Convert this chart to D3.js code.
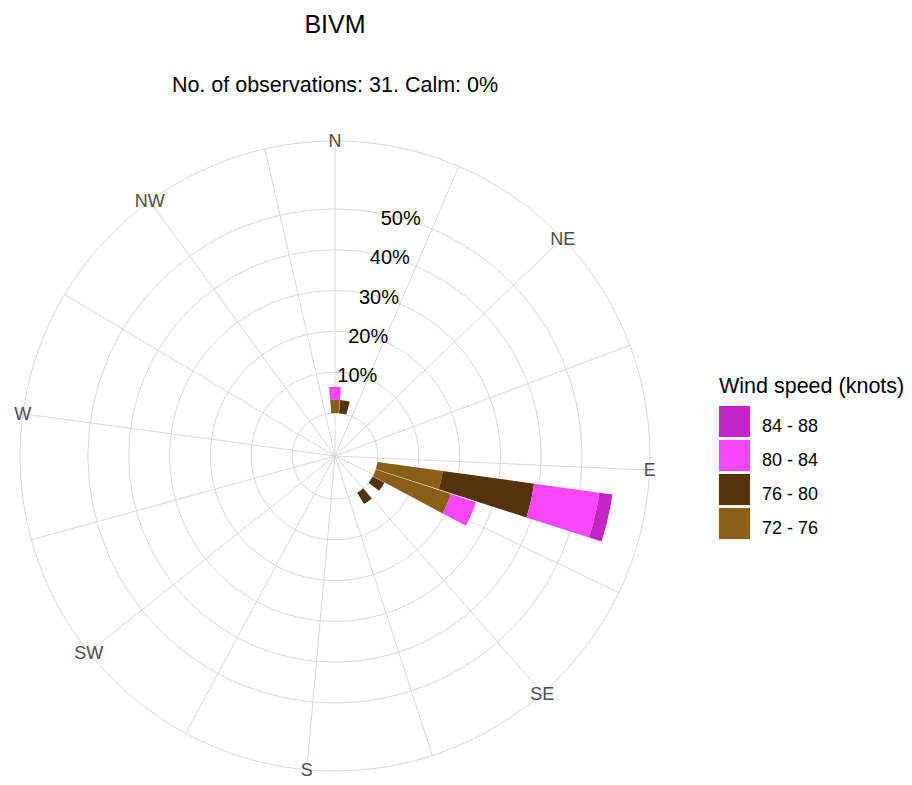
<!DOCTYPE html>
<html>
<head>
<meta charset="utf-8">
<script src="https://cdn.jsdelivr.net/npm/d3@7"></script>
<style>
  body { margin: 0; background: #fff; }
  text { font-family: "Liberation Sans", Arial, sans-serif; }
</style>
</head>
<body>
<svg id="chart" width="912" height="785"></svg>
<script>
// speed bins, legend order (outermost first)
const speedBins = ['84 - 88', '80 - 84', '76 - 80', '72 - 76'];
const binColors = ['#c126c5', '#f846f8', '#55330a', '#8b5e18'];

// direction bins (deg) and counts per speed bin
const directions = [0, 10, 100, 110, 120, 140];
const count7276 = [1, 0, 5, 6, 0, 0];
const count7680 = [0, 1, 7, 0, 1, 1];
const count8084 = [1, 0, 5, 2, 0, 0];
const count8488 = [0, 0, 1, 0, 0, 0];
const nObs = 31;

const compassLabels = ['N', 'NE', 'E', 'SE', 'S', 'SW', 'W', 'NW'];
const compassDirs = [0, 45, 90, 135, 180, 225, 270, 315];
const ringBreaks = [0, 10, 20, 30, 40, 50];
const ringLabels = ['10%', '20%', '30%', '40%', '50%'];

const cx = 335, cy = 456;
const barWidth = 9.6;

const svg = d3.select('#chart');
svg.append('rect').attr('width', 912).attr('height', 785).attr('fill', '#fff');

// percentages per direction, stacked from the slowest bin outward
const rows = directions.map((d, i) => ({
    dir: d,
    '72 - 76': count7276[i] / nObs * 100,
    '76 - 80': count7680[i] / nObs * 100,
    '80 - 84': count8084[i] / nObs * 100,
    '84 - 88': count8488[i] / nObs * 100
}));
const stackKeys = speedBins.slice().reverse();
const series = d3.stack().keys(stackKeys)(rows);
const maxPct = d3.max(series[series.length - 1], d => d[1]);

const theta = d3.scaleLinear().domain([0, 350]).range([0, 2 * Math.PI]);
const r = d3.scaleLinear().domain([0, maxPct]).range([43, 280]);
const outerR = 315;
const color = d3.scaleOrdinal().domain(speedBins).range(binColors);

const g = svg.append('g').attr('transform', `translate(${cx},${cy})`);

// grid: spokes every 22.5 deg, rings at the breaks, outer ring
const spokes = d3.range(0, 350, 22.5);
g.selectAll('.spoke').data(spokes).enter().append('line')
    .attr('x1', 0).attr('y1', 0)
    .attr('x2', d => outerR * Math.sin(theta(d)))
    .attr('y2', d => -outerR * Math.cos(theta(d)))
    .attr('stroke', '#d9d9d9').attr('stroke-width', 1);

g.selectAll('.ring').data(ringBreaks.map(b => r(b)).concat([outerR])).enter().append('circle')
    .attr('r', d => d)
    .attr('fill', 'none')
    .attr('stroke', '#d9d9d9').attr('stroke-width', 1);

// bars
const arc = d3.arc()
    .innerRadius(d => r(d[0]))
    .outerRadius(d => r(d[1]))
    .startAngle(d => theta(d.data.dir - barWidth / 2))
    .endAngle(d => theta(d.data.dir + barWidth / 2));

g.selectAll('.layer').data(series).enter().append('g')
    .attr('fill', s => color(s.key))
    .selectAll('path')
    .data(s => s.filter(d => d[1] > d[0]))
    .enter().append('path')
    .attr('d', arc);

// compass labels
g.selectAll('.compass').data(compassDirs).enter().append('text')
    .attr('x', d => outerR * Math.sin(theta(d)))
    .attr('y', d => -outerR * Math.cos(theta(d)))
    .attr('dy', '0.35em')
    .attr('text-anchor', 'middle')
    .attr('font-size', 18)
    .attr('fill', '#4d4d4d')
    .text((d, i) => compassLabels[i]);

// ring labels
g.selectAll('.rlab').data(ringBreaks.slice(1)).enter().append('text')
    .attr('x', d => r(d) * Math.sin(theta(15)))
    .attr('y', d => -r(d) * Math.cos(theta(15)))
    .attr('dy', '0.35em')
    .attr('text-anchor', 'middle')
    .attr('font-size', 20)
    .attr('fill', '#000')
    .text((d, i) => ringLabels[i]);

// titles
svg.append('text').attr('x', cx).attr('y', 33)
    .attr('text-anchor', 'middle').attr('font-size', 25).attr('fill', '#000')
    .text('BIVM');
svg.append('text').attr('x', cx).attr('y', 91.5)
    .attr('text-anchor', 'middle').attr('font-size', 21.5).attr('fill', '#000')
    .text('No. of observations: 31. Calm: 0%');

// legend
const leg = svg.append('g').attr('transform', 'translate(718,0)');
leg.append('text').attr('x', 1).attr('y', 392.5)
    .attr('font-size', 21.5).attr('fill', '#000')
    .text('Wind speed (knots)');
const item = leg.selectAll('.item').data(speedBins).enter().append('g')
    .attr('transform', (d, i) => `translate(0,${405 + i * 34})`);
item.append('rect').attr('x', 0.5).attr('y', 0.5)
    .attr('width', 32).attr('height', 32)
    .attr('fill', d => color(d)).attr('stroke', '#f2f2f2');
item.append('text').attr('x', 44).attr('y', 27)
    .attr('font-size', 18).attr('fill', '#000')
    .text(d => d);
</script>
</body>
</html>
